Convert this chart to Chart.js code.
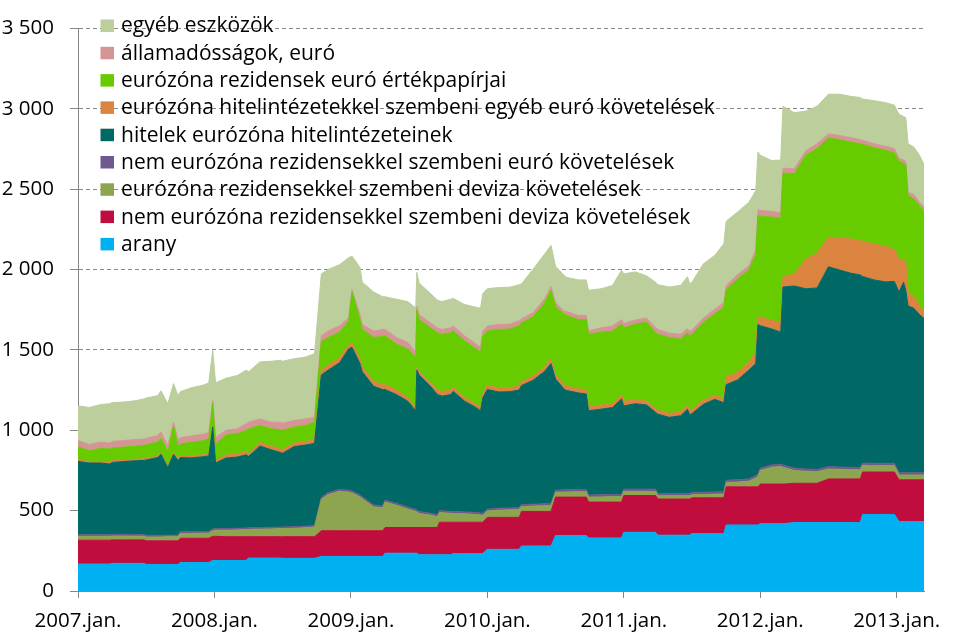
<!DOCTYPE html>
<html>
<head>
<meta charset="utf-8">
<script src="https://cdn.jsdelivr.net/npm/chart.js@4.4.0/dist/chart.umd.min.js"></script>
<style>
  html, body { margin: 0; padding: 0; background: #ffffff; }
  #c { display: block; }
</style>
</head>
<body>
<canvas id="c" width="977" height="638"></canvas>
<script>
// x positions: months since 2007 January
const months = [0,1,2,2.8,3,4,5,5.8,6,7,
  7.3,7.9,8.4,8.8,9,10,11,11.5,11.85,12.1,
  13,14,14.8,15,16,17,17.8,18,19,20,
  20.8,21.4,22,23,23.8,24.1,24.8,25,26,26.8,
  27,28,29,29.7,29.8,30,31,31.6,31.8,32,
  32.8,33,34,35,35.4,35.6,36,37,38,38.8,
  39,40,41,41.6,42,42.8,43,44,44.7,44.9,
  46,47,47.8,48,49,50,50.8,51,52,53,
  53.6,53.8,54,55,56,56.8,57,58,59,59.6,
  59.8,60,61,61.8,62,63,64,65,66,67,
  68,68.8,69,70,71,71.8,72.2,72.6,72.8,73,
  73.5,74,74.4];

const arany = [168,168,168,168,172,172,172,172,165,165,
  165,165,165,165,177,177,177,177,190,190,
  190,190,190,205,205,205,205,203,203,203,
  203,215,215,215,215,215,215,215,215,215,
  235,235,235,235,235,225,225,225,225,225,
  225,233,233,233,233,233,259,259,259,259,
  280,280,280,280,345,345,345,345,345,330,
  330,330,330,365,365,365,365,347,347,347,
  347,347,357,357,357,357,411,411,411,411,
  411,418,418,418,418,426,426,426,426,426,
  426,426,476,476,476,476,432,432,432,432,
  432,432,432];

const nemEzDeviza = [148,148,148,148,146,146,146,146,147,147,
  147,147,147,147,151,151,151,151,150,150,
  148,148,148,133,133,133,133,135,135,135,
  135,160,160,160,160,160,160,160,160,160,
  160,160,160,160,160,170,170,170,203,203,
  203,195,195,195,195,195,199,199,199,199,
  215,215,215,215,239,239,239,239,239,223,
  223,223,223,229,229,229,229,225,225,225,
  225,225,223,223,223,223,237,237,237,237,
  237,247,247,247,247,244,244,244,271,271,
  271,271,264,264,264,264,260,260,260,260,
  260,260,260];

const ezDeviza = [24,24,24,24,24,24,23,23,24,24,
  24,25,25,26,30,30,32,32,35,38,
  40,42,44,45,47,48,50,50,52,55,
  60,195,225,245,240,235,210,199,148,143,
  158,138,115,100,97,87,77,67,61,59,
  55,54,52,48,45,44,39,45,47,49,
  30,33,35,38,30,32,32,34,34,31,
  32,34,34,26,26,26,25,20,20,20,
  20,20,20,20,22,24,27,30,35,55,
  65,85,105,110,105,80,75,72,62,60,
  58,57,42,40,40,40,30,30,30,30,
  30,30,30];

const nemEzEuro = [10,10,10,10,10,10,10,10,10,10,
  10,10,10,10,10,10,10,10,10,10,
  10,10,10,10,10,10,10,10,10,10,
  10,12,12,12,12,12,12,12,12,12,
  12,12,12,12,12,12,12,12,12,12,
  12,12,12,12,12,12,12,12,12,12,
  12,12,12,12,13,13,13,13,13,13,
  13,13,13,14,14,14,14,14,14,14,
  14,14,14,14,14,14,14,14,14,14,
  14,14,14,14,14,14,14,14,14,14,
  14,14,14,14,14,14,14,14,14,14,
  14,14,14];

const hitelek = [456,446,446,440,448,453,459,461,469,484,
  504,421,503,464,462,460,465,470,635,408,
  439,443,455,444,507,482,464,459,498,505,
  510,762,762,788,879,894,817,778,738,723,
  688,677,659,614,870,849,789,748,717,713,
  727,748,689,653,636,718,744,723,723,731,
  741,770,822,869,691,623,618,601,595,524,
  533,541,595,517,531,523,478,494,474,484,
  525,490,490,547,576,553,594,621,677,697,
  931,886,846,821,1107,1133,1121,1129,1244,1225,
  1207,1198,1160,1141,1129,1131,1124,1185,1135,1037,
  1023,984,959];

const egyebEuro = [10,10,10,10,10,10,10,10,10,10,
  10,10,10,10,12,12,13,12,10,14,
  18,19,20,20,22,22,22,22,22,22,
  22,30,31,30,24,26,31,30,30,30,
  30,30,21,20,20,21,20,30,27,28,
  30,26,21,20,20,25,25,25,25,25,
  25,25,25,31,26,26,26,25,26,25,
  25,25,25,30,25,24,20,25,24,27,
  24,25,25,26,24,26,50,47,51,71,
  51,50,55,55,65,75,183,218,184,199,
  213,213,219,223,221,199,203,137,179,81,
  75,53,40];

const ertekpapir = [82,66,82,82,80,80,80,83,85,85,
  90,87,165,78,73,85,87,93,140,105,
  124,127,132,152,105,109,119,120,99,99,
  110,178,172,160,148,318,243,233,274,300,
  304,284,304,314,355,324,344,355,357,357,
  355,349,354,345,344,360,339,364,365,375,
  365,370,400,425,425,441,441,431,436,451,
  454,451,440,456,470,491,476,472,473,450,
  452,466,468,485,508,568,542,582,572,608,
  627,630,641,655,644,624,648,649,618,612,
  603,603,603,600,598,601,608,603,600,604,
  606,624,626];

const allamadossag = [37,40,38,38,40,41,42,40,40,41,
  40,40,25,40,40,40,40,40,15,40,
  30,30,41,41,41,41,47,45,41,41,
  30,35,40,40,20,15,30,31,40,44,
  40,41,40,30,20,30,31,30,30,30,
  30,31,31,30,31,30,31,31,30,30,
  25,25,24,24,25,20,24,26,26,20,
  27,31,28,27,25,26,30,30,26,30,
  24,30,26,26,29,28,26,26,25,31,
  37,37,35,33,30,30,27,30,24,26,
  27,25,25,24,24,27,20,20,21,21,
  27,21,26];

const egyebEszkoz = [216,230,234,245,242,239,241,250,250,249,
  255,260,240,275,285,300,305,310,313,340,
  324,331,334,314,355,379,385,385,385,385,
  395,385,383,380,375,208,294,263,243,203,
  203,238,254,275,213,197,182,173,173,173,
  178,172,195,229,243,233,232,230,230,225,
  217,270,280,256,226,221,212,221,221,253,
  243,252,307,308,300,262,284,278,288,304,
  324,294,298,337,335,367,399,389,396,365,
  358,344,316,328,385,349,247,233,247,257,
  257,263,257,268,272,270,274,271,273,303,
  295,293,268];

const seriesLabels = [
  'arany',
  'nem eurózóna rezidensekkel szembeni deviza követelések',
  'eurózóna rezidensekkel szembeni deviza követelések',
  'nem eurózóna rezidensekkel szembeni euró követelések',
  'hitelek eurózóna hitelintézeteinek',
  'eurózóna hitelintézetekkel szembeni egyéb euró követelések',
  'eurózóna rezidensek euró értékpapírjai',
  'államadósságok, euró',
  'egyéb eszközök'
];
const seriesColors = ['#00B0F0','#C00D3D','#8CA54E','#6F5A8F','#006966','#DA843F','#66CC00','#D59594','#BBCE9B'];
const seriesValues = [arany, nemEzDeviza, ezDeviza, nemEzEuro, hitelek, egyebEuro, ertekpapir, allamadossag, egyebEszkoz];

const xTickMonths = [0,12,24,36,48,60,72];
const xTickLabels = ['2007.jan.','2008.jan.','2009.jan.','2010.jan.','2011.jan.','2012.jan.','2013.jan.'];
const yTickLabels = ['0','500','1 000','1 500','2 000','2 500','3 000','3 500'];

const FONT = '"Open Sans", "Noto Sans", sans-serif';
Chart.defaults.font.family = FONT;
Chart.defaults.color = '#000000';

const datasets = seriesValues.map((vals, i) => ({
  label: seriesLabels[i],
  data: months.map((m, j) => ({ x: m, y: vals[j] })),
  backgroundColor: seriesColors[i],
  borderColor: seriesColors[i],
  borderWidth: 1,
  pointRadius: 0,
  pointHoverRadius: 0,
  tension: 0,
  fill: i === 0 ? 'origin' : '-1'
}));

const insideLegend = {
  id: 'insideLegend',
  afterDraw(chart) {
    const ctx = chart.ctx;
    const ds = chart.data.datasets;
    ctx.save();
    ctx.font = '21px ' + FONT;
    ctx.textBaseline = 'middle';
    ctx.textAlign = 'left';
    for (let k = 0; k < ds.length; k++) {
      const d = ds[ds.length - 1 - k];
      const cy = 25.5 + k * 27.3;
      ctx.fillStyle = d.backgroundColor;
      ctx.fillRect(100.5, cy - 6, 13.5, 12.5);
      ctx.fillStyle = '#000000';
      ctx.fillText(d.label, 121, cy + 1);
    }
    ctx.restore();
  }
};

new Chart(document.getElementById('c'), {
  type: 'line',
  data: { datasets },
  plugins: [insideLegend],
  options: {
    responsive: false,
    animation: false,
    devicePixelRatio: 1,
    layout: { padding: { top: 15, right: 53, left: 0, bottom: 0 } },
    plugins: { legend: { display: false }, tooltip: { enabled: false } },
    scales: {
      x: {
        type: 'linear',
        min: 0,
        max: months[months.length - 1],
        afterBuildTicks: (s) => { s.ticks = xTickMonths.map(v => ({ value: v })); },
        afterFit: (s) => { s.height = 47; },
        ticks: {
          autoSkip: false, maxRotation: 0, padding: 11,
          font: { size: 20.5 },
          callback: (v, i) => xTickLabels[i]
        },
        grid: { display: true, drawOnChartArea: false, drawTicks: true, tickLength: 7, tickColor: '#868686', tickWidth: 1 },
        border: { display: true, color: '#868686', width: 1 }
      },
      y: {
        stacked: true,
        min: 0,
        max: 3500,
        afterFit: (s) => { s.width = 78; },
        ticks: {
          stepSize: 500, padding: 16,
          font: { size: 20.5 },
          callback: (v, i) => yTickLabels[i]
        },
        grid: { color: '#8a8a8a', lineWidth: 1, tickLength: 8, tickColor: '#868686', tickBorderDash: [1, 0] },
        border: { display: true, color: '#868686', width: 1, dash: [4, 3] }
      }
    }
  }
});
</script>
</body>
</html>
